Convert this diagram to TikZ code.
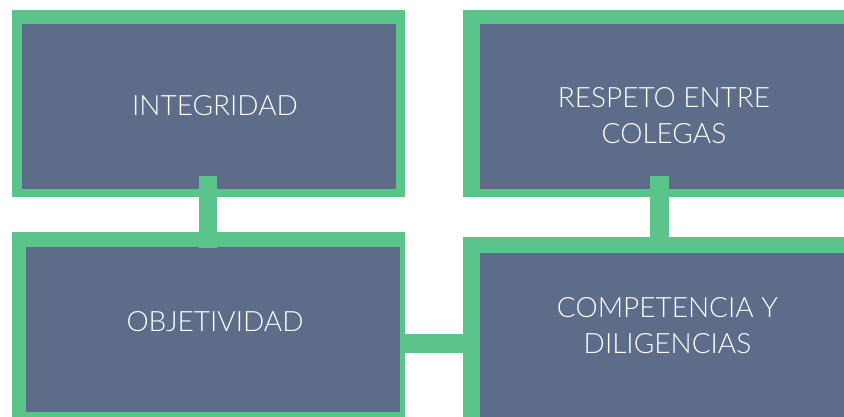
\documentclass[tikz,border=0pt]{standalone}
\usepackage{fontspec}
\setmainfont{Lato}[UprightFont=* Light]
\definecolor{grn}{RGB}{91,196,138}
\definecolor{blu}{RGB}{93,109,137}
\tikzset{
  outerbox/.style={fill=grn, draw=none, inner sep=0pt, anchor=north west},
  innerbox/.style={fill=blu, draw=none, inner sep=0pt, anchor=north west},
  label/.style={text=white, font=\fontsize{28}{36}\selectfont, align=center, inner sep=0pt},
  conn/.style={draw=grn, line width=18.5pt}
}
\begin{document}
\begin{tikzpicture}[x=1pt,y=-1pt]
\useasboundingbox (0,0) rectangle (844,417);
\clip (0,0) rectangle (844,417);
% outer green frames
\node[outerbox, minimum width=393pt, minimum height=187pt] (o1) at (12,10) {};
\node[outerbox, minimum width=393pt, minimum height=190pt] (o2) at (12,232) {};
\node[outerbox, minimum width=420pt, minimum height=187pt] (o3) at (463,10) {};
\node[outerbox, minimum width=420pt, minimum height=200pt] (o4) at (463,237) {};
% inner blue panels
\node[innerbox, minimum width=374pt, minimum height=165pt] (i1) at (22,24) {};
\node[innerbox, minimum width=374pt, minimum height=165pt] (i2) at (26,247) {};
\node[innerbox, minimum width=400pt, minimum height=165pt] (i3) at (480,24) {};
\node[innerbox, minimum width=400pt, minimum height=180pt] (i4) at (480,253) {};
% connectors
\coordinate (c1a) at (208,176);
\coordinate (c1b) at (208,248);
\coordinate (c2a) at (659.5,176);
\coordinate (c2b) at (659.5,238);
\coordinate (c3a) at (404,343.5);
\coordinate (c3b) at (464,343.5);
\draw[conn] (c1a) -- (c1b);
\draw[conn] (c2a) -- (c2b);
\draw[conn] (c3a) -- (c3b);
% labels
\node[label] (t1) at (215,106) {INTEGRIDAD};
\node[label] (t2) at (215,322) {OBJETIVIDAD};
\node[label] (t3) at (664,116) {RESPETO ENTRE\\COLEGAS};
\node[label] (t4) at (667.5,326) {COMPETENCIA Y\\DILIGENCIAS};
\end{tikzpicture}
\end{document}
